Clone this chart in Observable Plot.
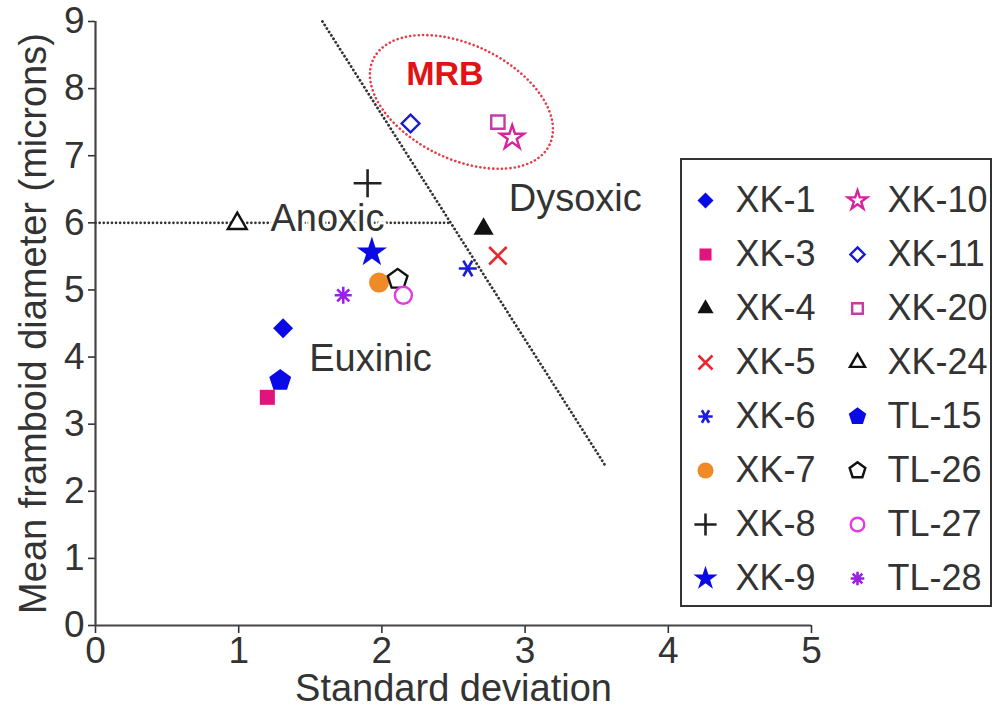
<!DOCTYPE html>
<html>
<head>
<meta charset="utf-8">
<script src="https://cdn.jsdelivr.net/npm/d3@7"></script>
<script src="https://cdn.jsdelivr.net/npm/@observablehq/plot@0.6"></script>
<style>
  html, body { margin: 0; padding: 0; background: #fff; }
  #wrap { position: relative; width: 995px; height: 709px; font-family: "Liberation Sans", Arial, sans-serif; }
  #legend { position: absolute; left: 680px; top: 158px; width: 308px; height: 445px; border: 2px solid #333; background: #fff; }
</style>
</head>
<body>
<div id="wrap"><div id="legend"></div></div>
<script>
// ---- data ----
const sampleNames = ["XK-1","XK-3","XK-4","XK-5","XK-6","XK-7","XK-8","XK-9","XK-10","XK-11","XK-20","XK-24","TL-15","TL-26","TL-27","TL-28"];
const stdDev      = [1.31, 1.20, 2.71, 2.81, 2.60, 1.98, 1.90, 1.93, 2.91, 2.20, 2.81, 0.99, 1.29, 2.11, 2.15, 1.73];
const meanDiam    = [4.43, 3.40, 5.91, 5.51, 5.32, 5.11, 6.59, 5.56, 7.27, 7.48, 7.50, 5.99, 3.65, 5.16, 4.92, 4.92];
const xTicks = [0, 1, 2, 3, 4, 5];
const yTicks = [0, 1, 2, 3, 4, 5, 6, 7, 8, 9];
// boundary lines (data units)
const anoxicLine = [{x: 0, y: 6}, {x: 2.48, y: 6}];
const dysoxicLine = [{x: 1.585, y: 9.0}, {x: 3.555, y: 2.40}];
const mrbEllipse = {cx: 2.559, cy: 7.794, rx: 0.684, ry: 0.85, angle: 26};
const annotations = [
  {label: "Anoxic", x: 1.62, y: 6.06},
  {label: "Euxinic", x: 1.92, y: 3.98},
  {label: "Dysoxic", x: 3.35, y: 6.36}
];
const mrbLabel = [{label: "MRB", x: 2.44, y: 8.21}];

// ---- symbols ----
const pentagon = {draw(ctx, size) {
  const R = Math.sqrt(size / 2.378);
  for (let k = 0; k < 5; k++) {
    const a = -Math.PI / 2 + k * 2 * Math.PI / 5;
    const px = R * Math.cos(a), py = R * Math.sin(a);
    if (k === 0) ctx.moveTo(px, py); else ctx.lineTo(px, py);
  }
  ctx.closePath();
}};
function spokes(n, offset) {
  return {draw(ctx, size) {
    const r = Math.sqrt(size / Math.PI);
    for (let k = 0; k < n; k++) {
      const a = offset + k * Math.PI / n;
      ctx.moveTo(r * Math.cos(a), r * Math.sin(a));
      ctx.lineTo(-r * Math.cos(a), -r * Math.sin(a));
    }
  }};
}
const asterisk6 = spokes(3, 0);
const asterisk8 = spokes(4, 0);

// style per sample (same order as sampleNames)
const styles = [
  {symbol: "diamond2", color: "#0a0ae6", filled: true,  r: 9},
  {symbol: "square",   color: "#e0147c", filled: true,  r: 8.5},
  {symbol: "triangle", color: "#111111", filled: true,  r: 7.5},
  {symbol: "times",    color: "#e8282c", filled: false, r: 8,  line: true},
  {symbol: asterisk6,  color: "#1a1ae0", filled: false, r: 9,  line: true},
  {symbol: "circle",   color: "#f08a28", filled: true,  r: 10},
  {symbol: "plus",     color: "#222222", filled: false, r: 9,  line: true},
  {symbol: "star",     color: "#0a0ae6", filled: true,  r: 9.5},
  {symbol: "star",     color: "#d6249c", filled: false, r: 7.5},
  {symbol: "diamond2", color: "#1a1ad0", filled: false, r: 8},
  {symbol: "square",   color: "#c43ca6", filled: false, r: 7.5},
  {symbol: "triangle", color: "#111111", filled: false, r: 7},
  {symbol: pentagon,   color: "#0a0ae6", filled: true,  r: 10},
  {symbol: pentagon,   color: "#111111", filled: false, r: 9},
  {symbol: "circle",   color: "#e03ce0", filled: false, r: 8.5},
  {symbol: asterisk8,  color: "#9a20e6", filled: false, r: 8.5,  line: true}
];

const samples = sampleNames.map((name, i) => ({name, x: stdDev[i], y: meanDiam[i], ...styles[i], i}));

function dotFor(s, data, opts) {
  const o = {symbol: s.symbol, r: s.r, ...opts};
  if (s.line) { o.fill = "none"; o.stroke = s.color; o.strokeWidth = 2.6; }
  else if (s.filled) { o.fill = s.color; o.stroke = "none"; }
  else { o.fill = "white"; o.stroke = s.color; o.strokeWidth = 2.4; }
  return Plot.dot(data, o);
}

const ellipseMark = (index, scales) => {
  const {x, y} = scales;
  const cx = x(mrbEllipse.cx), cy = y(mrbEllipse.cy);
  const rx = x(mrbEllipse.cx + mrbEllipse.rx) - cx;
  const ry = y(mrbEllipse.cy) - y(mrbEllipse.cy + mrbEllipse.ry);
  return d3.create("svg:ellipse")
    .attr("cx", cx).attr("cy", cy).attr("rx", rx).attr("ry", ry)
    .attr("transform", `rotate(${mrbEllipse.angle} ${cx} ${cy})`)
    .attr("fill", "none").attr("stroke", "#e0404a").attr("stroke-width", 2.6)
    .attr("stroke-dasharray", "0.1 4.2").attr("stroke-linecap", "round")
    .node();
};

const chart = Plot.plot({
  width: 995,
  height: 709,
  marginLeft: 95,
  marginRight: 184,
  marginTop: 21,
  marginBottom: 84,
  style: {fontFamily: "'Liberation Sans', Arial, sans-serif", color: "#333", background: "white", overflow: "visible"},
  x: {domain: [0, 5], axis: null},
  y: {domain: [0, 9], axis: null},
  marks: [
    Plot.axisX({ticks: xTicks, tickFormat: d3.format("d"), tickSize: 8, tickPadding: 3, fontSize: 37, strokeWidth: 1.6, label: null}),
    Plot.axisY({ticks: yTicks, tickFormat: d3.format("d"), tickSize: 7, tickPadding: 4, fontSize: 37, strokeWidth: 1.6, label: null}),
    Plot.ruleY([0], {x1: 0, x2: 5, stroke: "#444", strokeWidth: 2.2}),
    Plot.ruleX([0], {y1: 0, y2: 9, stroke: "#444", strokeWidth: 2.2}),
    Plot.text(["Standard deviation"], {frameAnchor: "bottom", lineAnchor: "middle", textAnchor: "middle", dy: 63, fontSize: 38, fill: "#333"}),
    Plot.text(["Mean framboid diameter (microns)"], {frameAnchor: "left", lineAnchor: "middle", textAnchor: "middle", dx: -62, rotate: -90, fontSize: 38, fill: "#333"}),
    Plot.line(anoxicLine, {x: "x", y: "y", stroke: "#333", strokeWidth: 2.6, strokeDasharray: "0.1 4", strokeLinecap: "round"}),
    Plot.line(dysoxicLine, {x: "x", y: "y", stroke: "#333", strokeWidth: 2.8, strokeDasharray: "0.1 4", strokeLinecap: "round"}),
    ellipseMark,
    Plot.text(annotations, {x: "x", y: "y", text: "label", fontSize: 38, fill: "#333", stroke: "white", strokeWidth: 6, paintOrder: "stroke"}),
    Plot.text(mrbLabel, {x: "x", y: "y", text: "label", fontSize: 34, fontWeight: "bold", fill: "#e01414"}),
    ...samples.map(s => dotFor(s, [s], {x: "x", y: "y"}))
  ]
});
document.getElementById("wrap").prepend(chart);

// ---- legend ----
const legendRows = d3.range(8);
const legendItems = samples.map((s, k) => ({...s, col: k < 8 ? 0 : 1, row: k % 8}));
const legend = Plot.plot({
  width: 308,
  height: 445,
  margin: 0,
  style: {fontFamily: "'Liberation Sans', Arial, sans-serif", color: "#333", background: "white"},
  x: {type: "point", domain: [0, 1], range: [23, 175], padding: 0, axis: null},
  y: {type: "point", domain: legendRows, range: [40, 418], padding: 0, axis: null},
  marks: [
    ...legendItems.map(s => dotFor({...s, r: s.r * 0.8}, [s], {x: "col", y: "row"})),
    Plot.text(legendItems, {x: "col", y: "row", text: "name", dx: 30, textAnchor: "start", fontSize: 36, fill: "#333"})
  ]
});
document.getElementById("legend").append(legend);
</script>
</body>
</html>
